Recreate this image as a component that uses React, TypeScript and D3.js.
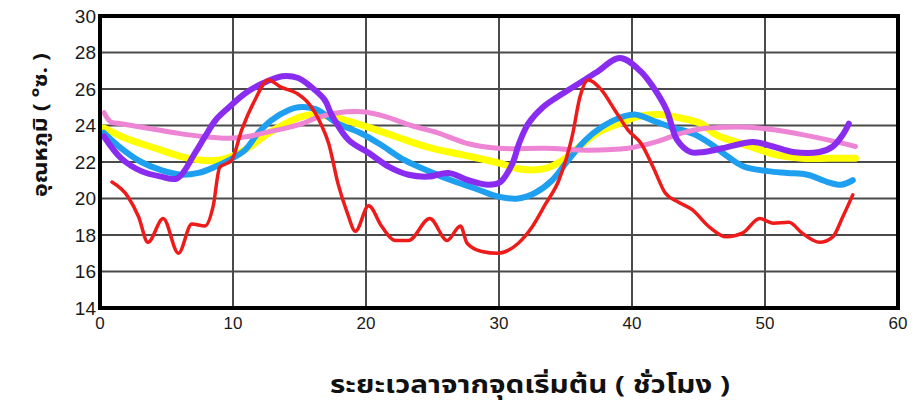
import React from "react";
import * as d3 from "d3";

const yTicks = [14, 16, 18, 20, 22, 24, 26, 28, 30];
const xTicks = [0, 10, 20, 30, 40, 50, 60];
const xLabel = "ระยะเวลาจากจุดเริ่มต้น ( ชั่วโมง )";
const yLabel = "อุณหภูมิ ( °ซ. )";

const redT = [0.9, 2.1, 2.9, 3.6, 4.75, 5.9, 6.9, 7.9, 8.5, 9.0, 9.9, 10.65, 11.65, 12.65, 13.6, 14.8, 15.7, 16.6, 17.2, 17.9, 18.6, 19.2, 20.2, 21.2, 22.2, 23.2, 24.8, 26.1, 27.1, 27.6, 28.7, 29.9, 31.45, 32.5, 33.5, 34.5, 35.5, 36.1, 36.7, 37.7, 38.7, 39.7, 40.7, 41.6, 42.5, 43.5, 44.5, 45.8, 47.1, 48.3, 49.6, 50.6, 51.8, 52.8, 54.1, 55.1, 55.85, 56.6];
const redV = [20.9, 20.1, 19.0, 17.6, 18.9, 17.0, 18.6, 18.5, 19.55, 21.7, 22.1, 23.75, 25.4, 26.5, 26.1, 25.76, 25.2, 24.1, 23.0, 20.8, 19.2, 18.2, 19.6, 18.45, 17.7, 17.7, 18.9, 17.7, 18.5, 17.55, 17.1, 17.0, 17.55, 18.45, 19.7, 21.0, 23.4, 25.6, 26.5, 25.95, 24.85, 23.75, 23.0, 21.7, 20.3, 19.8, 19.4, 18.45, 17.9, 18.1, 18.9, 18.65, 18.7, 18.1, 17.6, 17.9, 19.0, 20.2];

const purpleT = [0.3, 1.6, 3.1, 4.6, 5.8, 7.15, 7.9, 8.7, 9.7, 10.9, 12.2, 13.7, 14.9, 15.9, 16.9, 17.4, 18.7, 20.2, 21.7, 23.2, 24.7, 26.2, 27.7, 29.2, 30.1, 31.0, 31.5, 32.2, 33.3, 34.8, 36.0, 37.3, 39.1, 40.6, 41.6, 42.6, 43.4, 44.4, 45.4, 46.8, 49.1, 50.6, 52.1, 54.1, 55.1, 55.85, 56.3];
const purpleV = [23.4, 22.2, 21.5, 21.2, 21.1, 22.5, 23.4, 24.3, 25.0, 25.75, 26.3, 26.7, 26.6, 26.1, 25.4, 24.6, 23.2, 22.5, 21.75, 21.3, 21.2, 21.4, 21.0, 20.75, 20.9, 21.9, 23.0, 24.1, 25.0, 25.75, 26.3, 26.9, 27.7, 27.0, 26.1, 24.85, 23.2, 22.55, 22.55, 22.75, 23.1, 22.85, 22.55, 22.55, 22.85, 23.5, 24.1];

const blueT = [0.3, 1.6, 3.1, 4.6, 6.1, 7.4, 8.7, 9.7, 10.9, 11.9, 12.9, 14.2, 14.9, 16.2, 17.9, 19.7, 21.2, 22.9, 24.7, 26.4, 28.2, 29.95, 31.45, 32.7, 34.0, 35.2, 36.5, 37.7, 39.0, 40.2, 41.8, 43.0, 44.6, 45.9, 47.2, 48.4, 50.2, 51.7, 53.2, 54.7, 55.7, 56.6];
const blueV = [23.6, 22.75, 22.0, 21.55, 21.3, 21.4, 21.75, 22.1, 22.65, 23.6, 24.3, 24.85, 25.0, 24.9, 24.1, 23.55, 22.9, 22.1, 21.5, 21.0, 20.55, 20.1, 20.0, 20.3, 21.0, 22.1, 23.2, 23.9, 24.4, 24.6, 24.2, 23.9, 23.55, 23.0, 22.3, 21.75, 21.5, 21.4, 21.3, 20.9, 20.75, 21.0];

const yellowT = [0.3, 1.6, 3.1, 4.6, 6.1, 7.65, 8.9, 10.2, 11.4, 12.7, 14.2, 15.2, 16.2, 18.4, 20.2, 22.2, 24.7, 27.2, 29.95, 31.7, 33.5, 35.0, 36.3, 37.5, 39.0, 40.5, 42.0, 43.7, 45.2, 46.3, 47.8, 49.3, 50.8, 52.8, 54.8, 56.8];
const yellowV = [23.85, 23.4, 23.0, 22.65, 22.3, 22.1, 22.1, 22.4, 22.9, 23.6, 24.2, 24.5, 24.6, 24.3, 23.9, 23.4, 22.8, 22.4, 21.95, 21.6, 21.65, 22.2, 23.0, 23.65, 24.1, 24.5, 24.6, 24.4, 24.1, 23.5, 23.1, 22.75, 22.4, 22.2, 22.2, 22.2];

const pinkT = [0.3, 0.8, 1.6, 3.6, 5.65, 7.65, 9.65, 11.15, 12.65, 14.2, 15.2, 16.2, 17.9, 19.7, 21.4, 23.4, 25.4, 27.7, 29.95, 33.5, 36.7, 39.7, 41.8, 43.8, 45.5, 46.8, 48.8, 50.8, 52.8, 54.8, 56.8];
const pinkV = [24.7, 24.2, 24.1, 23.85, 23.6, 23.4, 23.3, 23.4, 23.65, 23.9, 24.1, 24.4, 24.7, 24.75, 24.5, 24.0, 23.6, 23.0, 22.75, 22.75, 22.65, 22.75, 23.1, 23.6, 23.85, 23.9, 23.9, 23.75, 23.5, 23.2, 22.85];

const series = [
  { name: "yellow", t: yellowT, v: yellowV, color: "#ffff00", width: 7, sharp: false },
  { name: "blue", t: blueT, v: blueV, color: "#1e9ff0", width: 6, sharp: false },
  { name: "pink", t: pinkT, v: pinkV, color: "#ee84d4", width: 5, sharp: false },
  { name: "purple", t: purpleT, v: purpleV, color: "#8a2cf0", width: 6, sharp: false },
  { name: "red", t: redT, v: redV, color: "#ee1b1b", width: 3.5, sharp: true },
];

export default function App() {
  const W = 915, H = 408;
  const x = d3.scaleLinear().domain([0, 60]).range([100, 898]);
  const y = d3.scaleLinear().domain([14, 30]).range([308, 16]);
  const smooth = d3
    .line<[number, number]>()
    .x((d) => x(d[0]))
    .y((d) => y(d[1]))
    .curve(d3.curveCatmullRom.alpha(0.5));
  const sharp = d3
    .line<[number, number]>()
    .x((d) => x(d[0]))
    .y((d) => y(d[1]))
    .curve(d3.curveMonotoneX);
  const font = "'Liberation Sans', Arial, sans-serif";
  const thaiFont = "'Noto Sans Thai', 'Loma', 'Garuda', 'Norasi', 'Tlwg Typo', 'Noto Sans', 'DejaVu Sans', sans-serif";
  return (
    <svg width={W} height={H} style={{ position: "absolute", left: 0, top: 0, background: "#fff" }}>
      <rect x={0} y={0} width={W} height={H} fill="#fff" />
      {yTicks.filter((v) => v > 14 && v < 30).map((v) => (
        <line key={"gy" + v} x1={x(0)} x2={x(60)} y1={y(v)} y2={y(v)} stroke="#4a4a4a" strokeWidth={2} />
      ))}
      {xTicks.filter((t) => t > 0 && t < 60).map((t) => (
        <line key={"gx" + t} x1={x(t)} x2={x(t)} y1={y(30)} y2={y(14)} stroke="#4a4a4a" strokeWidth={2} />
      ))}
      {series.map((s) => {
        const gen = s.sharp ? sharp : smooth;
        return (
          <path
            key={s.name}
            d={gen(s.t.map((t, i) => [t, s.v[i]] as [number, number])) || ""}
            fill="none"
            stroke={s.color}
            strokeWidth={s.width}
            strokeLinecap="round"
            strokeLinejoin="round"
          />
        );
      })}
      <rect x={x(0)} y={y(30)} width={x(60) - x(0)} height={y(14) - y(30)} fill="none" stroke="#000" strokeWidth={4} />
      {yTicks.map((v) => (
        <text key={"ty" + v} x={96} y={y(v)} dy="0.36em" textAnchor="end" fontFamily={font} fontSize={19} fill="#1a1a1a">
          {v}
        </text>
      ))}
      {xTicks.map((t) => (
        <text key={"tx" + t} x={x(t)} y={329} textAnchor="middle" fontFamily={font} fontSize={17} fill="#1a1a1a">
          {t}
        </text>
      ))}
      <text x={530} y={393} textAnchor="middle" fontFamily={thaiFont} fontWeight="bold" fontSize={24} fill="#111" textLength={400} lengthAdjust="spacingAndGlyphs">
        {xLabel}
      </text>
      <text transform={`translate(47,125) rotate(-90)`} textAnchor="middle" fontFamily={thaiFont} fontWeight="bold" fontSize={19} fill="#111" textLength={144} lengthAdjust="spacingAndGlyphs">
        {yLabel}
      </text>
    </svg>
  );
}
